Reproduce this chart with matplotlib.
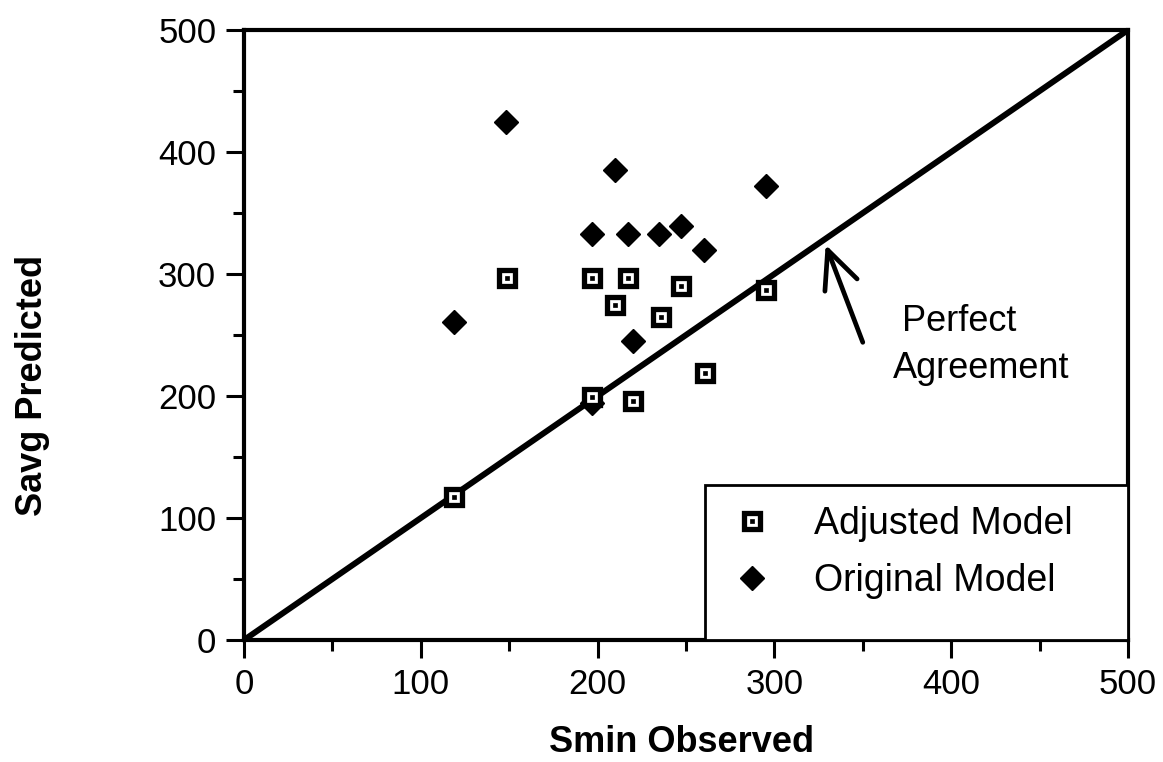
import matplotlib
matplotlib.use('Agg')
import matplotlib.pyplot as plt
from matplotlib.patches import Rectangle
from matplotlib.ticker import MultipleLocator

plt.rcParams['font.family'] = ['Liberation Sans', 'DejaVu Sans']

# adjusted model (open squares with a dot)
adj_x = [119, 149, 197, 217, 247, 210, 236, 295, 261, 197, 220]
adj_y = [117, 297, 297, 297, 290, 275, 265, 287, 219, 199, 196]

# original model (filled diamonds)
orig_x = [148, 210, 295, 197, 217, 235, 247, 260, 119, 220, 197]
orig_y = [425, 385, 372, 333, 333, 333, 339, 320, 261, 245, 194]

# perfect agreement line
line_x = [0, 500]
line_y = [0, 500]

ticks = [0, 100, 200, 300, 400, 500]

fig = plt.figure(figsize=(11.63, 7.62), dpi=100)
ax = fig.add_axes([0.2098, 0.1601, 0.7601, 0.8005])

ax.plot(line_x, line_y, color='black', lw=4.3, zorder=2, solid_capstyle='butt')

ax.plot(orig_x, orig_y, linestyle='none', marker='D', ms=12, mfc='black',
        mec='black', mew=1, zorder=3)
ax.plot(adj_x, adj_y, linestyle='none', marker='s', ms=11.5, mfc='white',
        mec='black', mew=3.8, zorder=4)
ax.plot(adj_x, adj_y, linestyle='none', marker='s', ms=2.2, mfc='black',
        mec='black', mew=0.5, zorder=5)

ax.set_xlim(0, 500)
ax.set_ylim(0, 500)
ax.set_xticks(ticks)
ax.set_yticks(ticks)
ax.xaxis.set_minor_locator(MultipleLocator(50))
ax.yaxis.set_minor_locator(MultipleLocator(50))
ax.tick_params(which='major', direction='out', length=13, width=2.2,
               labelsize=25, pad=7)
ax.tick_params(which='minor', direction='out', length=8, width=2.2)
for s in ax.spines.values():
    s.set_linewidth(3)

ax.set_xlabel('Smin Observed', fontsize=26, fontweight='bold')
ax.set_ylabel('Savg Predicted', fontsize=26, fontweight='bold')
ax.xaxis.set_label_coords(0.495, -0.14)
ax.yaxis.set_label_coords(-0.22, 0.418)

# arrow + label
ax.annotate('', xy=(329, 324), xytext=(350, 244),
            arrowprops=dict(arrowstyle='->,head_length=1.35,head_width=0.62',
                            lw=3.4, color='black', mutation_scale=20,
                            shrinkA=0, shrinkB=0))
ax.text(372, 253, 'Perfect', fontsize=26, va='baseline', ha='left')
ax.text(367, 215, 'Agreement', fontsize=26, va='baseline', ha='left')

# legend box
box = Rectangle((0.5215, 0), 0.4785, 0.254, transform=ax.transAxes,
                facecolor='white', edgecolor='black', lw=2, zorder=6)
ax.add_patch(box)

h_adj_outer, = ax.plot([], [], linestyle='none', marker='s', ms=11.5, mfc='white',
                       mec='black', mew=3.8)
h_adj_dot, = ax.plot([], [], linestyle='none', marker='s', ms=2.2, mfc='black',
                     mec='black', mew=0.5)
h_orig, = ax.plot([], [], linestyle='none', marker='D', ms=12, mfc='black',
                  mec='black', mew=1)
leg = ax.legend([(h_adj_outer, h_adj_dot), h_orig], ['Adjusted Model', 'Original Model'],
                loc='upper left', bbox_to_anchor=(0.554, 0.219), frameon=False,
                fontsize=27, borderpad=0, borderaxespad=0, handlelength=1.0,
                handletextpad=1.15, labelspacing=0.55)
leg.set_zorder(7)

fig.savefig('out.png', dpi=100)
